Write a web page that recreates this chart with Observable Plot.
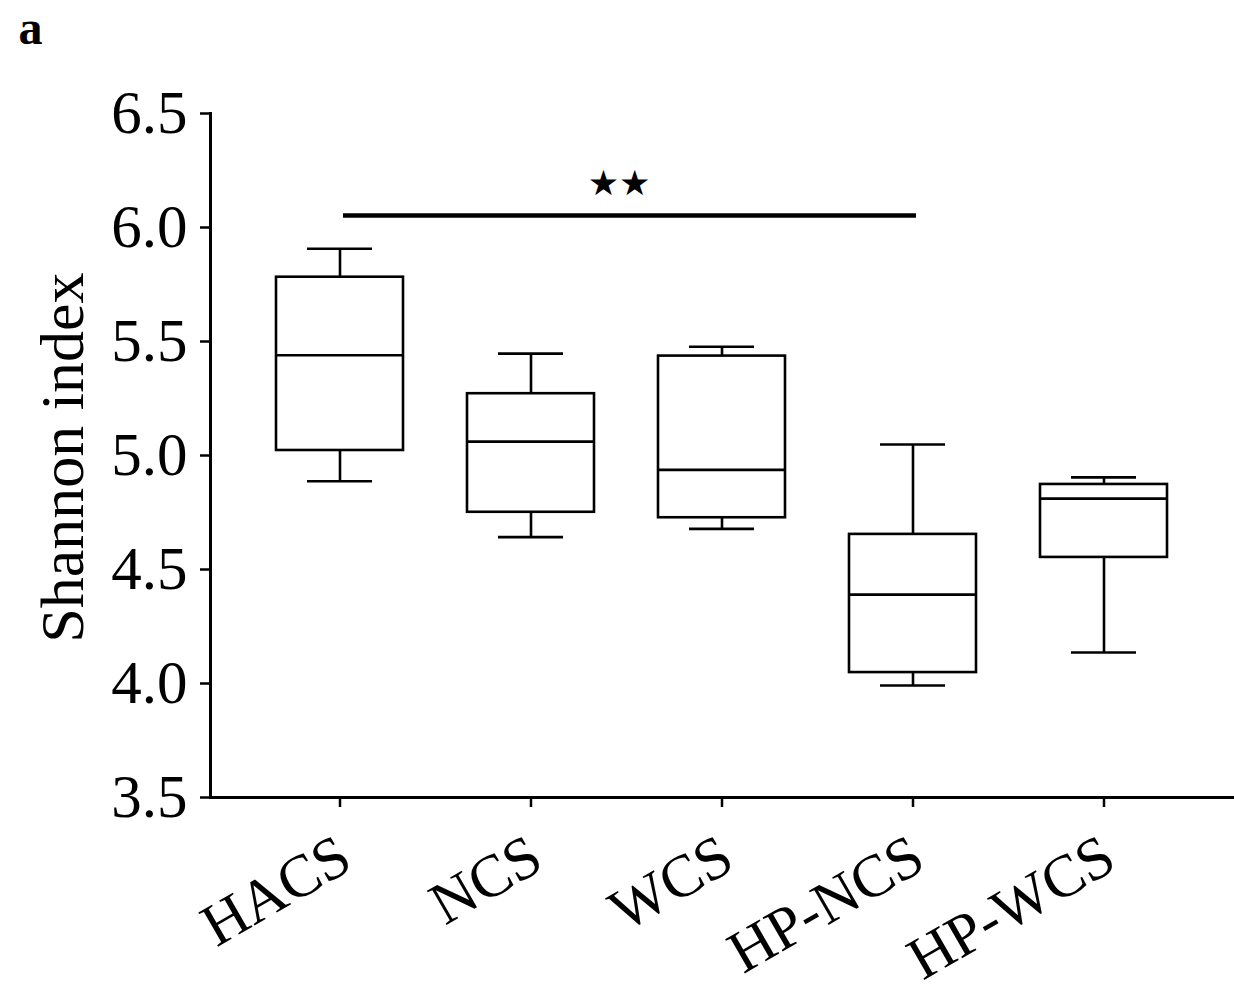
<!DOCTYPE html>
<html><head><meta charset="utf-8">
<script src="https://cdn.jsdelivr.net/npm/d3@7"></script>
<script src="https://cdn.jsdelivr.net/npm/@observablehq/plot@0.6"></script>
<style>body{margin:0;background:#fff;} svg{display:block}</style>
</head><body><div id="chart"></div>
<script>
const groups = ["HACS", "NCS", "WCS", "HP-NCS", "HP-WCS"];
const whiskerMax = [5.907, 5.447, 5.477, 5.048, 4.904];
const q3 = [5.782, 5.271, 5.436, 4.654, 4.873];
const median = [5.440, 5.061, 4.937, 4.390, 4.811];
const q1 = [5.022, 4.751, 4.727, 4.048, 4.553];
const whiskerMin = [4.887, 4.642, 4.678, 3.991, 4.136];
const yTicks = [3.5, 4.0, 4.5, 5.0, 5.5, 6.0, 6.5];
const sigFrom = "HACS";
const sigTo = "HP-NCS";
const sigY = 6.053;
const sigLabel = "★★";
const yLabel = "Shannon index";
const panelLabel = "a";

const boxes = groups.map((g, i) => ({group: g, max: whiskerMax[i], q3: q3[i], median: median[i], q1: q1[i], min: whiskerMin[i]}));
const serif = "'Liberation Serif','Times New Roman',serif";
const sw = 2.6;

const chart = Plot.plot({
  width: 1234, height: 991,
  marginLeft: 210, marginRight: 0, marginTop: 113, marginBottom: 194,
  style: {fontFamily: serif, background: "#fff", color: "#000"},
  x: {type: "band", domain: groups, padding: 1/3, axis: null},
  y: {domain: [3.5, 6.5], axis: null},
  marks: [
    Plot.frame({anchor: "left", strokeWidth: 3}),
    Plot.frame({anchor: "bottom", strokeWidth: 3}),
    Plot.axisY({ticks: yTicks, tickFormat: d3.format(".1f"), tickSize: 10, tickPadding: 13, fontSize: 61, label: null, strokeWidth: 2.5}),
    Plot.axisX({tickSize: 10, fill: "none", tickFormat: () => "", label: null, strokeWidth: 2.5}),
    Plot.ruleX(boxes, {x: "group", y1: "min", y2: "q1", strokeWidth: sw}),
    Plot.ruleX(boxes, {x: "group", y1: "q3", y2: "max", strokeWidth: sw}),
    Plot.barY(boxes, {x: "group", y1: "q1", y2: "q3", fill: "white", stroke: "black", strokeWidth: sw}),
    Plot.tickY(boxes, {x: "group", y: "median", strokeWidth: sw}),
    Plot.tickY(boxes, {x: "group", y: "max", insetLeft: 31, insetRight: 31, strokeWidth: sw}),
    Plot.tickY(boxes, {x: "group", y: "min", insetLeft: 31, insetRight: 31, strokeWidth: sw}),
    Plot.link([{a: sigFrom, b: sigTo, y: sigY}], {x1: "a", x2: "b", y1: "y", y2: "y", strokeWidth: 4.5, dx: 3}),
    Plot.text([sigLabel], {x: () => "NCS", y: () => sigY, dx: 88, dy: -20, lineAnchor: "bottom", fontSize: 35, fontFamily: "'DejaVu Sans'"}),
    Plot.text(groups, {x: d => d, frameAnchor: "bottom", dx: 15, dy: 70, rotate: -30, textAnchor: "end", lineAnchor: "bottom", fontSize: 60}),
    Plot.text([yLabel], {frameAnchor: "left", rotate: -90, dx: -128, dy: 2, textAnchor: "middle", lineAnchor: "bottom", fontSize: 62}),
    Plot.text([panelLabel], {frameAnchor: "top-left", dx: -192, dy: -70, textAnchor: "start", lineAnchor: "bottom", fontSize: 48, fontWeight: "bold"})
  ]
});
document.getElementById("chart").appendChild(chart);
</script>
</body></html>
